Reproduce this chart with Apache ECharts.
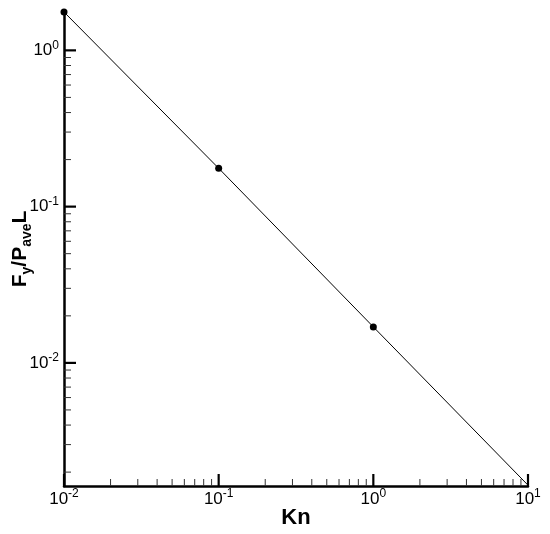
<!DOCTYPE html>
<html>
<head>
<meta charset="utf-8">
<script src="https://cdn.jsdelivr.net/npm/echarts@6/dist/echarts.min.js"></script>
<style>html,body{margin:0;padding:0;background:#fff}#c{width:550px;height:534px}</style>
</head>
<body>
<div id="c"></div>
<script>
// data
var knValues = [0.01, 0.1, 1, 10];
var forceValues = [1.76, 0.176, 0.017, 0.00165];
// axis ranges
var xMin = 0.01, xMax = 10;
var yMin = 0.00163, yMax = 1.76;
// ticks
var xMajorTicks = [0.01, 0.1, 1, 10];
var xTickExponents = ['-2', '-1', '0', '1'];
var xMinorTicks = [0.02,0.03,0.04,0.05,0.06,0.07,0.08,0.09,0.2,0.3,0.4,0.5,0.6,0.7,0.8,0.9,2,3,4,5,6,7,8,9];
var yMajorTicks = [0.01, 0.1, 1];
var yTickExponents = ['-2', '-1', '0'];
var yMinorTicks = [0.002,0.003,0.004,0.005,0.006,0.007,0.008,0.009,0.02,0.03,0.04,0.05,0.06,0.07,0.08,0.09,0.2,0.3,0.4,0.5,0.6,0.7,0.8,0.9];

var FONT = 'Liberation Sans, Arial, Helvetica, sans-serif';

var tickData = [];
xMajorTicks.forEach(function (v, i) { tickData.push([v, yMin, 1, xTickExponents[i]]); });
xMinorTicks.forEach(function (v) { tickData.push([v, yMin, 0, '']); });
yMajorTicks.forEach(function (v, i) { tickData.push([xMin, v, 3, yTickExponents[i]]); });
yMinorTicks.forEach(function (v) { tickData.push([xMin, v, 2, '']); });

var labelRich = {
  b: { fontSize: 17, fontFamily: FONT, color: '#000', lineHeight: 22 },
  s: { fontSize: 12, fontFamily: FONT, color: '#000', verticalAlign: 'top', lineHeight: 22 }
};

function renderTick(params, api) {
  var p = api.coord([api.value(0), api.value(1)]);
  var kind = api.value(2);
  var exp = tickData[params.dataIndex][3];
  var children = [];
  if (kind === 0 || kind === 1) {
    var len = kind === 1 ? 12 : 7;
    children.push({ type: 'line', shape: { x1: p[0], y1: p[1], x2: p[0], y2: p[1] - len },
      style: { stroke: kind === 1 ? '#000' : '#333', lineWidth: kind === 1 ? 2.2 : 1 } });
    if (kind === 1) {
      children.push({ type: 'text', x: p[0], y: p[1] + 2,
        style: { text: '{b|10}{s|' + exp + '}', rich: labelRich, align: 'center', verticalAlign: 'top' } });
    }
  } else {
    var len2 = kind === 3 ? 12 : 7;
    children.push({ type: 'line', shape: { x1: p[0], y1: p[1], x2: p[0] + len2, y2: p[1] },
      style: { stroke: kind === 3 ? '#000' : '#333', lineWidth: kind === 3 ? 2.2 : 1 } });
    if (kind === 3) {
      children.push({ type: 'text', x: p[0] - 5, y: p[1],
        style: { text: '{b|10}{s|' + exp + '}', rich: labelRich, align: 'right', verticalAlign: 'middle' } });
    }
  }
  return { type: 'group', children: children };
}

var chart = echarts.init(document.getElementById('c'));
chart.setOption({
  animation: false,
  backgroundColor: '#fff',
  grid: { left: 64, right: 22, top: 12, bottom: 48, containLabel: false },
  xAxis: {
    type: 'log', logBase: 10, min: xMin, max: xMax,
    name: 'Kn', nameLocation: 'middle', nameGap: 21,
    nameTextStyle: { fontSize: 22, fontWeight: 'bold', fontFamily: FONT, color: '#000' },
    axisLine: { show: true, lineStyle: { color: '#000', width: 2.5 } },
    axisTick: { show: false }, axisLabel: { show: false },
    splitLine: { show: false }, minorTick: { show: false }, minorSplitLine: { show: false }
  },
  yAxis: {
    type: 'log', logBase: 10, min: yMin, max: yMax,
    name: '{m|F}{sub|y}{m|/P}{sub|ave}{m|L}', nameLocation: 'middle', nameGap: 30, nameRotate: 90,
    nameTextStyle: {
      color: '#000',
      rich: {
        m: { fontSize: 21, fontWeight: 'bold', fontFamily: FONT, color: '#000', lineHeight: 28 },
        sub: { fontSize: 14, fontWeight: 'bold', fontFamily: FONT, color: '#000', verticalAlign: 'bottom', lineHeight: 28 }
      }
    },
    axisLine: { show: true, lineStyle: { color: '#000', width: 2.5 } },
    axisTick: { show: false }, axisLabel: { show: false },
    splitLine: { show: false }, minorTick: { show: false }, minorSplitLine: { show: false }
  },
  series: [
    {
      type: 'line',
      data: knValues.map(function (x, i) {
        return { value: [x, forceValues[i]], symbolSize: i === knValues.length - 1 ? 0 : 7 };
      }),
      symbol: 'circle',
      showAllSymbol: true,
      lineStyle: { color: '#000', width: 1 },
      itemStyle: { color: '#000' },
      z: 3
    },
    {
      type: 'custom',
      data: tickData.map(function (d) { return [d[0], d[1], d[2]]; }),
      renderItem: renderTick,
      silent: true,
      clip: false,
      z: 4
    }
  ]
});
</script>
</body>
</html>
